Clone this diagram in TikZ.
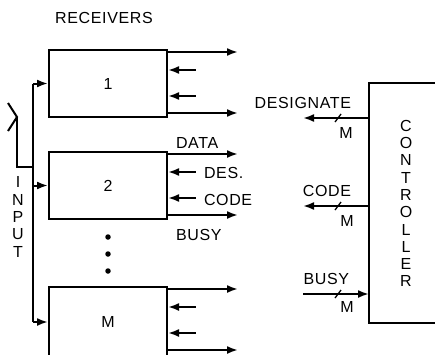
\documentclass[tikz,border=0pt]{standalone}
\usepackage{fontspec}
\setmainfont{Liberation Sans}[LetterSpace=4]
\usetikzlibrary{arrows.meta, positioning, calc}

\begin{document}
\begin{tikzpicture}[x=1pt, y=-1pt, >={Latex[length=11pt,width=8pt]}, line width=2pt,
    font=\fontsize{16}{17.3}\selectfont,
    recv/.style={draw, minimum width=118pt, minimum height=67pt, inner sep=0pt},
    ctrlbox/.style={minimum width=65pt, minimum height=238pt, inner sep=0pt},
    lbl/.style={inner sep=0pt},
    tick/.style={line width=1.3pt},
    dot/.style={circle, fill, inner sep=0pt, minimum size=5.5pt}]
    \useasboundingbox (0,0) rectangle (435,354);

    \node[lbl, anchor=base] (lrecv) at (104,23) {RECEIVERS};
    \node[recv] (r1) at (108,83.5) {1};
    \node[recv] (r2) at (108,185.5) {2};
    \node[recv, minimum height=70pt] (rm) at (108,322) {M};
    \foreach \y [count=\i] in {237,254,271}
        \node[dot] (dot\i) at (108,\y) {};

    \foreach \r in {r1,r2,rm} {
        \draw[->] ([yshift=-3pt]\r.north east) coordinate (\r-data) -- ++(70,0) coordinate (\r-dataend);
        \draw[<-] ([yshift=-21pt]\r.north east) coordinate (\r-des) -- ++(28,0) coordinate (\r-desend);
        \draw[<-] ([yshift=-47pt]\r.north east) coordinate (\r-code) -- ++(28,0) coordinate (\r-codeend);
        \draw[->] ([yshift=-64pt]\r.north east) coordinate (\r-busy) -- ++(70,0) coordinate (\r-busyend);
    }
    \node[lbl, anchor=base west] (ldata) at (175,148) {DATA};
    \node[lbl, anchor=base west] (ldes) at (203,178) {DES.};
    \node[lbl, anchor=base west] (lcode) at (203,205) {CODE};
    \node[lbl, anchor=base west] (lbusy) at (175,240) {BUSY};

    \coordinate (bus) at (33,0);
    \coordinate (hook) at (17,117);
    \coordinate (join) at (33,167);
    \draw (r1.west -| bus) -- (rm.west -| bus);
    \foreach \r in {r1,r2,rm}
        \draw[->] (\r.west -| bus) -- (\r.west);
    \draw (8,103) -- (hook) -- (8,131);
    \draw (hook) |- (join);
    \node[lbl, align=center] (linput) at (18,217) {I\\N\\P\\U\\T};

    \node[ctrlbox] (ctrl) at (402.5,203) {};
    \draw (ctrl.north east) -- (ctrl.north west) -- (ctrl.south west) -- (ctrl.south east);
    \node[lbl, align=center] (lctrl) at (406,203.5) {C\\O\\N\\T\\R\\O\\L\\L\\E\\R};

    \coordinate (desig) at (303,118);
    \coordinate (codeout) at (303,206);
    \coordinate (busyin) at (303,294);
    \draw[->] (ctrl.west |- desig) -- (desig);
    \draw[->] (ctrl.west |- codeout) -- (codeout);
    \draw[->] (busyin) -- (ctrl.west |- busyin);
    \draw[tick] (335,122) -- (341,114);
    \draw[tick] (335,210) -- (341,202);
    \draw[tick] (335,298) -- (341,290);
    \node[lbl, anchor=base east] (ldesig) at (352,108) {DESIGNATE};
    \node[lbl, anchor=base east] (lccode) at (352,196) {CODE};
    \node[lbl, anchor=base east] (lcbusy) at (350,284) {BUSY};
    \node[lbl, anchor=base] (mdes) at (346,138) {M};
    \node[lbl, anchor=base] (mcode) at (347,226) {M};
    \node[lbl, anchor=base] (mbusy) at (347,312) {M};
\end{tikzpicture}
\end{document}
